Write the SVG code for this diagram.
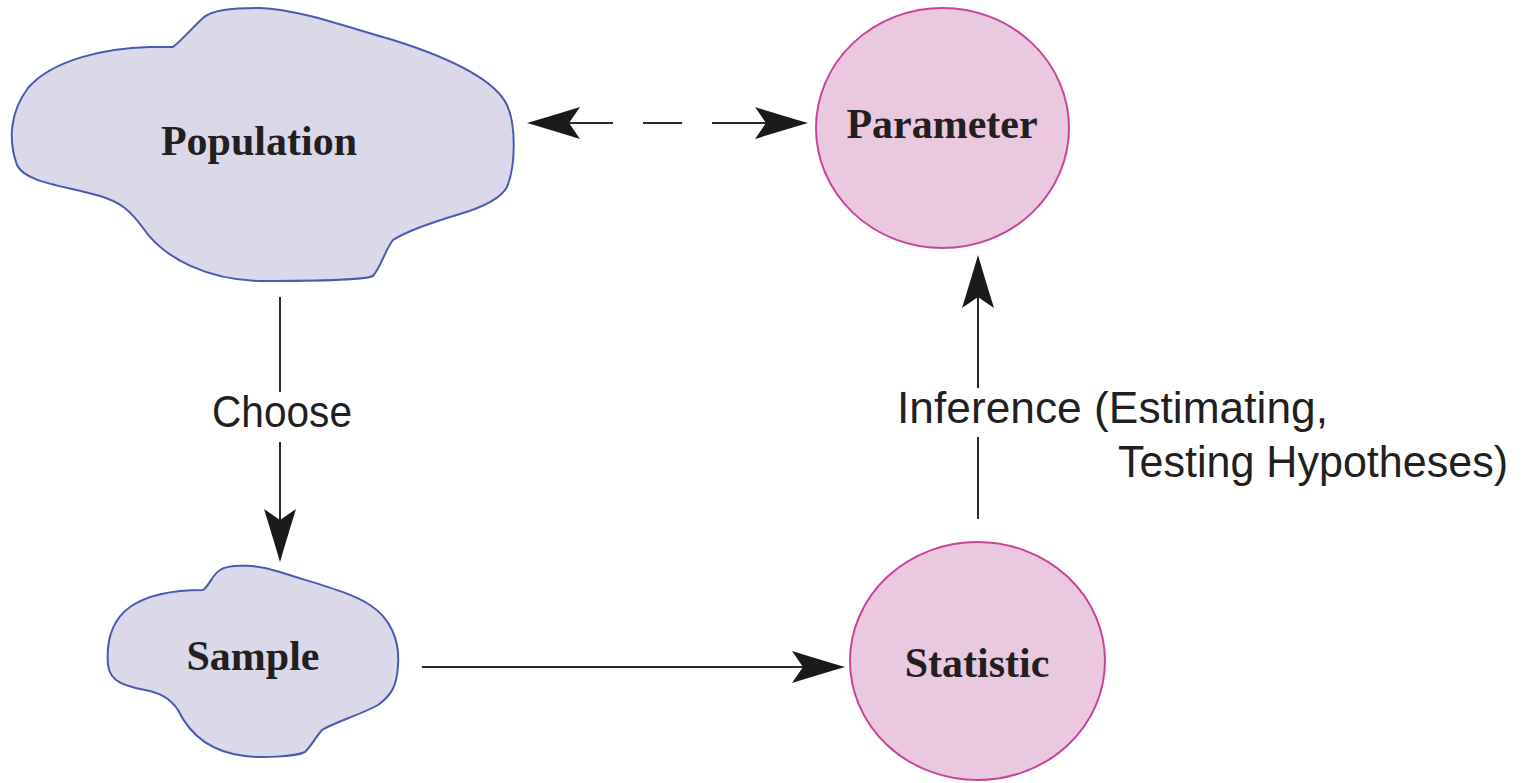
<svg xmlns="http://www.w3.org/2000/svg" width="1527" height="783" viewBox="0 0 1527 783">
  <style>
    .blob { fill: #dbd8ea; stroke: #4a5ab2; stroke-width: 2; }
    .circ { fill: #e9c8e0; stroke: #c8439a; stroke-width: 2; }
    .ntext { font-family: "Liberation Serif", "Times New Roman", serif; font-weight: bold; font-size: 42px; fill: #231f20; text-anchor: middle; }
    .ltext { font-family: "Liberation Sans", Arial, sans-serif; font-size: 44px; fill: #231f20; }
    .conn { stroke: #2b2b2b; stroke-width: 2; fill: none; }
  </style>
  <defs>
    <marker id="arrow" viewBox="-56 -18 60 36" markerWidth="60" markerHeight="36" refX="-30" refY="0" orient="auto-start-reverse" markerUnits="userSpaceOnUse">
      <path d="M0,0 Q-24,-7 -53,-16 L-42,0 L-53,16 Q-24,7 0,0 Z" fill="#1a1a1a"/>
    </marker>
  </defs>

  <rect width="1527" height="783" fill="#ffffff"/>

  <g id="population">
    <path class="blob" d="M173,47 C181,41 192,28 203,18 C212,10 230,8 260,8 C300,10 340,25 393,40 C450,58 495,80 507,105 C516,125 516,165 507,187 C500,200 480,208 460,214 C430,223 405,232 393,240 C385,250 382,265 373,276 C365,280 300,281 260,281 C210,280 165,260 143,228 C130,210 120,202 100,196 C60,185 25,182 17,165 C8,140 10,112 28,88 C52,60 105,48 150,47 Z"/>
    <text class="ntext" x="259" y="155">Population</text>
  </g>

  <g id="parameter">
    <ellipse class="circ" cx="942.5" cy="128" rx="126.5" ry="120"/>
    <text class="ntext" x="942" y="138">Parameter</text>
  </g>

  <g id="sample">
    <path class="blob" d="M203,590 C210,585 212,575 220,570 C230,563 260,565 280,572 C320,585 350,592 370,605 C390,618 400,640 398,665 C397,685 392,695 378,705 C360,715 335,722 322,730 C315,738 312,745 305,752 C295,757 260,758 245,756 C210,752 190,735 178,710 C170,698 160,693 145,690 C125,686 110,682 108,665 C106,640 112,620 130,607 C150,593 180,590 203,590 Z"/>
    <text class="ntext" x="253" y="670">Sample</text>
  </g>

  <g id="statistic">
    <ellipse class="circ" cx="977.5" cy="661" rx="127.5" ry="119"/>
    <text class="ntext" x="977" y="677">Statistic</text>
  </g>

  <g id="connectors">
    <line class="conn" x1="557" y1="123" x2="778" y2="123" stroke-dasharray="56 30 39 30 66" marker-start="url(#arrow)" marker-end="url(#arrow)"/>
    <line class="conn" x1="280" y1="297" x2="280" y2="392"/>
    <line class="conn" x1="280" y1="442" x2="280" y2="532" marker-end="url(#arrow)"/>
    <line class="conn" x1="422" y1="667" x2="815" y2="667" marker-end="url(#arrow)"/>
    <line class="conn" x1="978" y1="519" x2="978" y2="437"/>
    <line class="conn" x1="978" y1="388" x2="978" y2="285" marker-end="url(#arrow)"/>
    <text class="ltext" x="212" y="427" textLength="140" lengthAdjust="spacingAndGlyphs">Choose</text>
    <text class="ltext" x="897" y="423" textLength="431" lengthAdjust="spacingAndGlyphs">Inference (Estimating,</text>
    <text class="ltext" x="1118" y="477" textLength="390" lengthAdjust="spacingAndGlyphs">Testing Hypotheses)</text>
  </g>
</svg>
